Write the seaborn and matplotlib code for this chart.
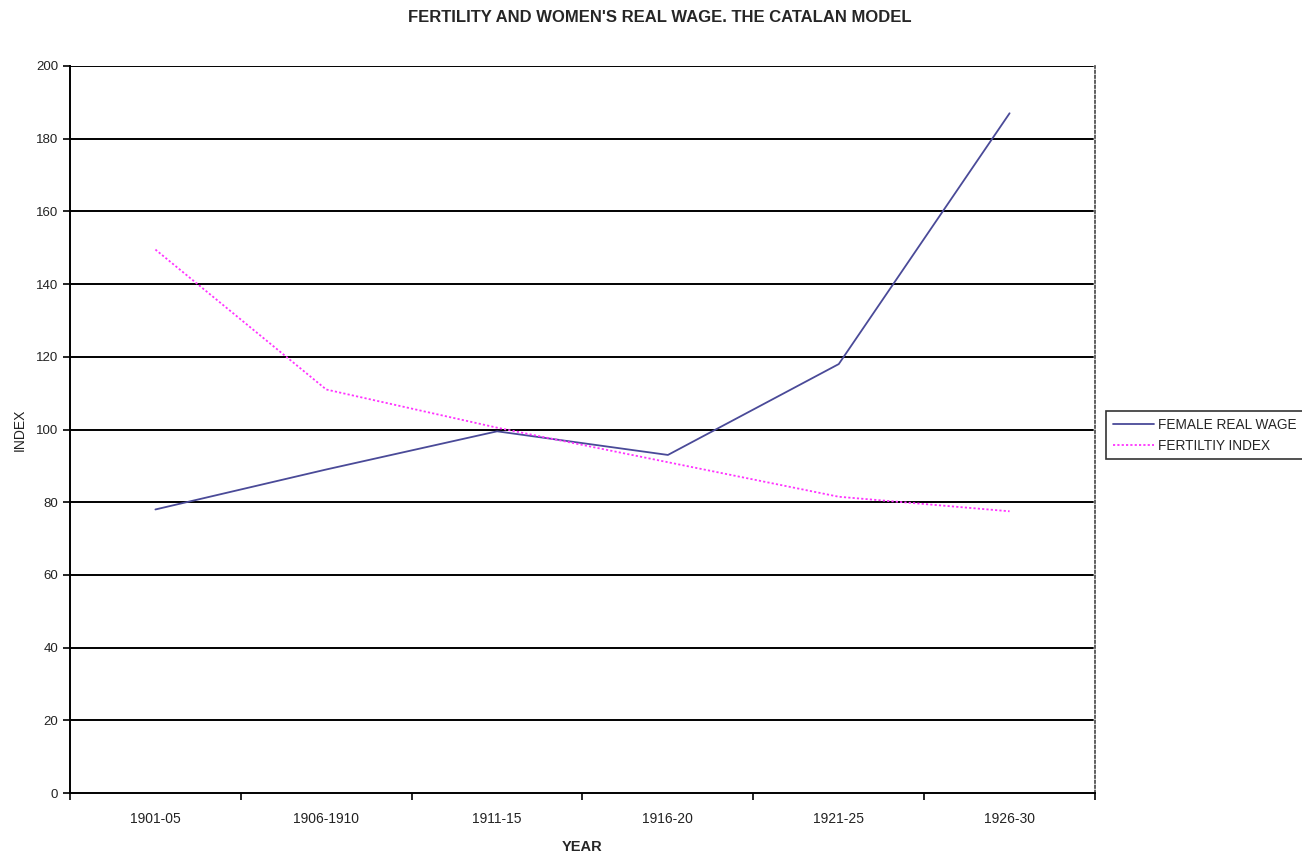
import matplotlib
matplotlib.use("Agg")
import matplotlib.pyplot as plt
from matplotlib.lines import Line2D
import seaborn as sns
import pandas as pd
import numpy as np

periods = ["1901-05", "1906-1910", "1911-15", "1916-20", "1921-25", "1926-30"]
female_real_wage = [78, 89, 99.5, 93, 118, 187]
fertility_index = [149.5, 111, 100.5, 91, 81.5, 77.5]

series_names = ["FEMALE REAL WAGE", "FERTILTIY INDEX"]
colors = {"FEMALE REAL WAGE": "#4a4a98", "FERTILTIY INDEX": "#ff33ff"}
dot_pattern = (1.2, 1.2)

df = pd.DataFrame({
    "YEAR": periods * 2,
    "INDEX": female_real_wage + fertility_index,
    "series": [series_names[0]] * len(periods) + [series_names[1]] * len(periods),
})

sns.set_theme(style="white")
plt.rcParams["font.family"] = ["Liberation Sans", "DejaVu Sans"]

fig = plt.figure(figsize=(13.02, 8.52), dpi=100)
ax = fig.add_axes([70 / 1302, 1 - 793 / 852, 1025 / 1302, 727 / 852])

sns.lineplot(data=df, x="YEAR", y="INDEX", hue="series", palette=colors,
             style="series", dashes={"FEMALE REAL WAGE": "", "FERTILTIY INDEX": dot_pattern},
             linewidth=1.3, ax=ax, sort=False, legend=False)

ax.set_xlim(-0.5, len(periods) - 0.5)
ax.set_ylim(0, 200)
ax.set_yticks(np.arange(0, 201, 20))
ax.set_xticks(range(len(periods)))
ax.set_xticklabels(periods)
ax.set_xticks(np.arange(-0.5, len(periods), 1.0), minor=True)
ax.tick_params(axis="x", which="major", length=0, pad=14, labelsize=10, colors="#222222")
ax.tick_params(axis="x", which="minor", length=5, width=1.2, color="black", direction="out", bottom=True)
ax.tick_params(axis="y", which="major", length=5, width=1.2, color="black", direction="out",
               left=True, labelsize=9.5, labelcolor="#222222")

for v in np.arange(20, 201, 20):
    ax.axhline(v, color="black", linewidth=1.4, zorder=0.5, xmax=0.998)

for side in ["left", "bottom"]:
    ax.spines[side].set_color("black")
    ax.spines[side].set_linewidth(1.4)
ax.spines["top"].set_visible(False)
ax.spines["right"].set_color("#444444")
ax.spines["right"].set_linestyle((0, (1.5, 1.5)))
ax.spines["right"].set_linewidth(1.2)

ax.set_xlabel("YEAR", fontsize=10.5, fontweight="bold", labelpad=10)
ax.set_ylabel("")
fig.text(20 / 1302, 1 - 430 / 852, "INDEX", rotation=90, ha="center", va="center",
         fontsize=10, color="#222222")

fig.text(660 / 1302, 1 - 17 / 852, "FERTILITY AND WOMEN'S REAL WAGE. THE CATALAN MODEL",
         ha="center", va="center", fontsize=12, fontweight="bold")

handles = [
    Line2D([], [], color=colors["FEMALE REAL WAGE"], linewidth=1.3),
    Line2D([], [], color=colors["FERTILTIY INDEX"], linewidth=1.3, linestyle=(0, dot_pattern)),
]
leg = fig.legend(handles, series_names, loc="upper left",
                 bbox_to_anchor=(1106 / 1302, 1 - 411 / 852),
                 frameon=True, fancybox=False, fontsize=9.8, handlelength=3.0,
                 handletextpad=0.3, borderpad=0.5, borderaxespad=0,
                 labelspacing=0.5)
leg.get_frame().set_edgecolor("black")
leg.get_frame().set_linewidth(1.2)

fig.savefig("out.png", dpi=100)
